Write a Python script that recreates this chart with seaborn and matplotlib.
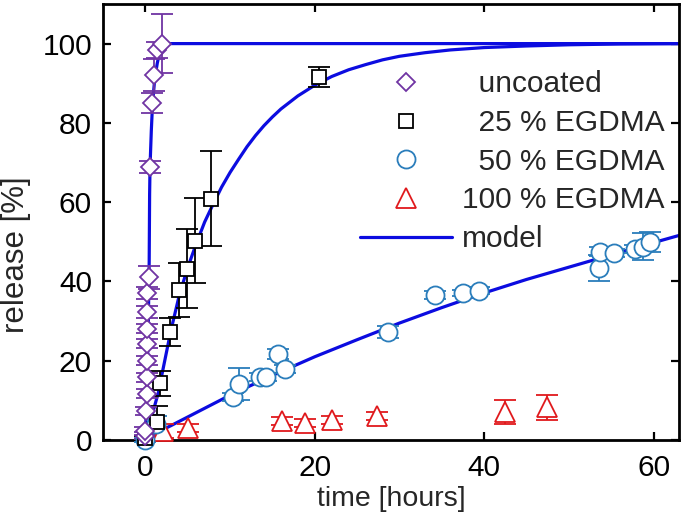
import numpy as np
import pandas as pd
import matplotlib
matplotlib.use("Agg")
import matplotlib.pyplot as plt
import seaborn as sns
from matplotlib.lines import Line2D

uncoated_t = [0.0, 0.0, 0.1, 0.15, 0.2, 0.2, 0.2, 0.2, 0.25, 0.25, 0.4, 0.5, 0.8, 1.0, 1.4, 2.0]
uncoated_y = [1.1, 2.3, 7.4, 11.7, 15.8, 20.0, 24.3, 28.1, 32.2, 37.0, 41.0, 68.8, 85.0, 92.0, 98.3, 100.0]
uncoated_e = [0.8, 1.0, 1.0, 1.2, 1.2, 1.2, 1.2, 1.2, 1.5, 1.5, 3.0, 1.5, 2.5, 4.0, 2.0, 7.5]

egdma25_t = [0.0, 1.4, 1.77, 2.95, 4.0, 4.9, 5.9, 7.8, 20.5]
egdma25_y = [0.5, 4.5, 14.3, 27.2, 37.9, 43.2, 50.3, 60.9, 91.5]
egdma25_e = [0.5, 4.0, 3.2, 3.6, 6.8, 10.0, 10.7, 12.0, 2.5]

egdma50_t = [0.0, 1.2, 10.4, 11.0, 13.5, 14.2, 15.7, 16.5, 28.7, 34.2, 37.5, 39.4, 53.5, 53.7, 55.3, 57.8, 58.8, 59.6]
egdma50_y = [0.0, 4.0, 10.8, 14.1, 16.0, 16.0, 21.7, 17.9, 27.2, 36.6, 37.1, 37.7, 43.4, 47.5, 47.2, 48.2, 48.8, 49.9]
egdma50_e = [0.5, 2.0, 1.0, 4.1, 1.0, 1.0, 1.2, 1.0, 1.5, 1.0, 0.8, 0.8, 3.2, 1.2, 1.0, 1.0, 3.5, 2.5]

egdma100_t = [2.1, 5.0, 16.1, 18.9, 22.0, 27.3, 42.5, 47.4]
egdma100_y = [2.3, 3.0, 4.9, 4.4, 5.0, 6.1, 7.1, 8.2]
egdma100_e = [1.8, 1.0, 1.0, 1.0, 1.0, 1.0, 3.1, 3.2]

# model curves
model_uc_t = [0, 0.2, 0.35, 0.45, 0.5, 0.55, 0.7, 0.85, 1.1, 1.4, 1.7, 2.1, 63]
model_uc_y = [0, 15, 30, 45, 62, 69, 78, 85, 91, 95, 98, 100, 100]

model_25_t = [0, 0.6, 1.6, 2, 3, 4, 5, 6, 7, 8, 9, 10, 11, 12, 13, 14, 15, 16, 18, 20,
              22, 24, 26, 28, 30, 33, 36, 40, 45, 50, 56, 63]
model_25_y = [0, 4.8, 12.5, 17, 27.5, 36.5, 43.5, 49.5, 55, 59.5, 63.8, 67.5, 70.8, 74, 76.8, 79.3, 81.5, 83.5, 86.8, 89.5,
              91.7, 93.4, 94.7, 95.9, 96.8, 97.7, 98.4, 99, 99.4, 99.7, 99.9, 100]

model_50_t = [0, 1, 3, 5, 10, 15, 20, 25, 30, 35, 40, 45, 50, 55, 60, 63]
model_50_y = [0, 1.5, 3.6, 5.8, 11.3, 16.3, 21, 25.3, 29.5, 33.4, 37.1, 40.5, 43.6, 46.7, 49.8, 51.6]

labels = ["  uncoated", "  25 % EGDMA", "  50 % EGDMA", "100 % EGDMA", "model"]
purple = "#7034a3"
blue_pts = "#2a7dbb"
red = "#e0191c"
model_col = "#0c0ce0"

sns.set_style("ticks")
plt.rcParams['font.family'] = ['Liberation Sans', 'DejaVu Sans']
fs = 21.5

fig = plt.figure(figsize=(6.85, 5.21), dpi=100)
ax = fig.add_axes([0.1504, 0.1555, 0.8409, 0.8369])

models = pd.concat([
    pd.DataFrame({'t': model_uc_t, 'y': model_uc_y, 'series': 'uc'}),
    pd.DataFrame({'t': model_25_t, 'y': model_25_y, 'series': '25'}),
    pd.DataFrame({'t': model_50_t, 'y': model_50_y, 'series': '50'}),
])
sns.lineplot(data=models, x='t', y='y', units='series', estimator=None,
             color=model_col, lw=2.3, ax=ax, legend=False, sort=False, zorder=2)

series = [
    (egdma100_t, egdma100_y, egdma100_e, '^', red, 14),
    (egdma50_t, egdma50_y, egdma50_e, 'o', blue_pts, 13),
    (egdma25_t, egdma25_y, egdma25_e, 's', 'black', 10.5),
    (uncoated_t, uncoated_y, uncoated_e, 'D', purple, 9.5),
]
for t, y, e, m, c, ms in series:
    ax.errorbar(t, y, yerr=e, fmt=m, ms=ms, mfc='white', mec=c, mew=1.3,
                ecolor=c, elinewidth=1.3, capsize=8, capthick=1.3,
                clip_on=False, zorder=3)

ax.set_xlim(-5, 63)
ax.set_ylim(0, 110)
ax.set_xticks([0, 20, 40, 60])
ax.set_yticks([0, 20, 40, 60, 80, 100])
ax.tick_params(direction='in', length=6, width=1.6, top=True, right=True,
               labelsize=fs, colors='black')
ax.tick_params(axis='x', pad=10)
ax.tick_params(axis='y', pad=8)
for s in ax.spines.values():
    s.set_linewidth(2)
    s.set_color('black')
ax.set_xlabel('time [hours]', fontsize=20.5, labelpad=3)
ax.set_ylabel('release [%]', fontsize=22.5)
ax.yaxis.set_label_coords(-0.125, 0.424)

handles = [
    Line2D([], [], ls='none', marker='D', ms=9.5, mfc='white', mec=purple, mew=1.3),
    Line2D([], [], ls='none', marker='s', ms=10.5, mfc='white', mec='black', mew=1.3),
    Line2D([], [], ls='none', marker='o', ms=13, mfc='white', mec=blue_pts, mew=1.3),
    Line2D([], [], ls='none', marker='^', ms=14, mfc='white', mec=red, mew=1.3),
    Line2D([], [], color=model_col, lw=2.3),
]
ax.legend(handles, labels, loc='upper left', bbox_to_anchor=(0.446, 0.848),
          frameon=False, fontsize=fs, handlelength=3.1, handletextpad=0.33,
          labelspacing=0.36, borderpad=0, borderaxespad=0)

fig.savefig('out.png', dpi=100)
